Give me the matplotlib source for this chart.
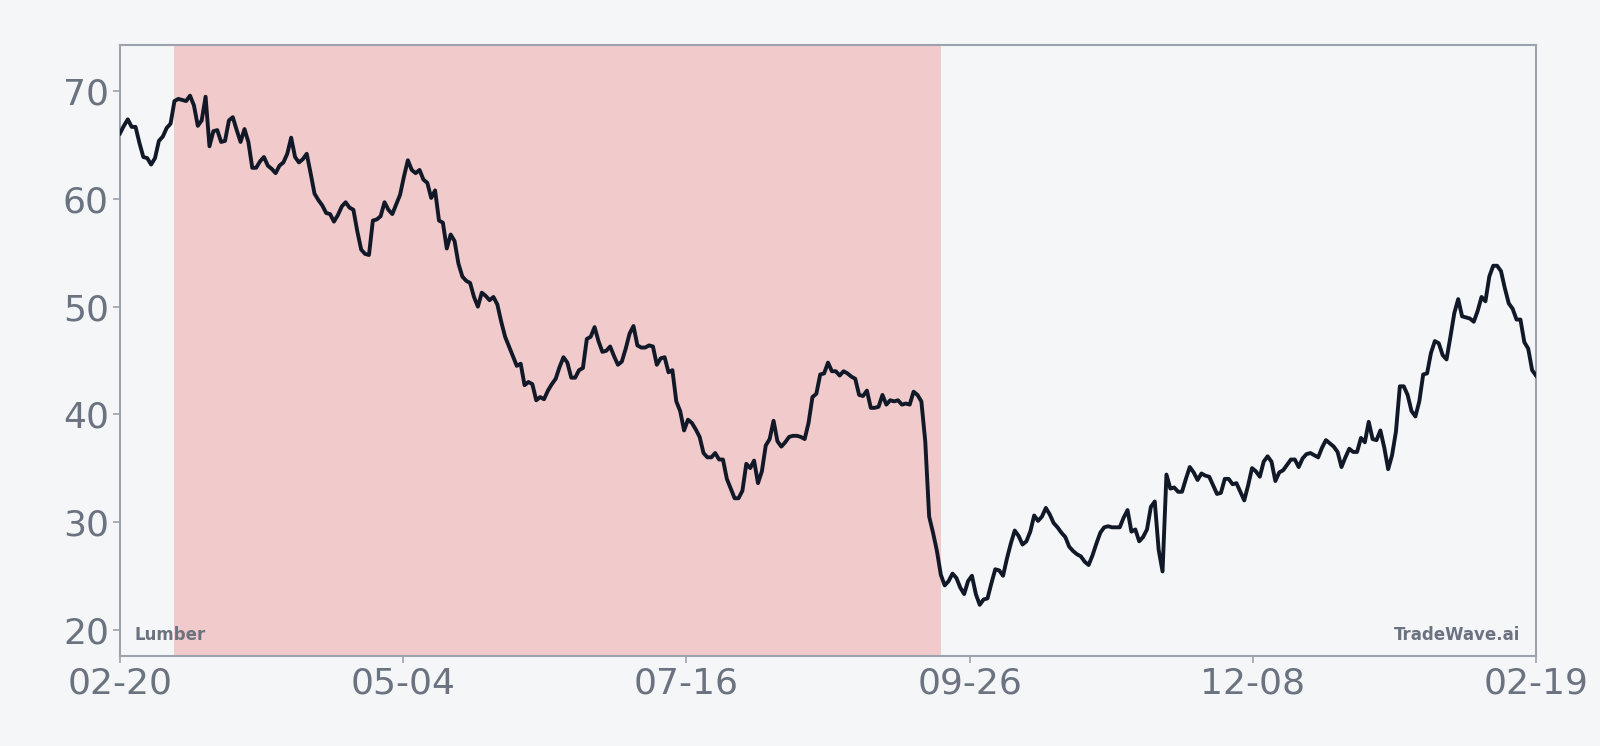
"""
Lumber price, one year of daily closes, with the drawdown period shaded.
"""

import numpy as np
import pandas as pd
import matplotlib
matplotlib.use("Agg")
import matplotlib.pyplot as plt

# daily values, 2023-02-20 .. 2024-02-19
start_date = "2023-02-20"
prices = [
    66.1, 66.8, 67.4, 66.7, 66.7, 65.2, 63.9, 63.8, 63.2, 63.8,
    65.4, 65.8, 66.6, 67.0, 69.1, 69.3, 69.2, 69.1, 69.6, 68.7,
    66.8, 67.3, 69.5, 64.9, 66.3, 66.4, 65.3, 65.4, 67.3, 67.6,
    66.4, 65.3, 66.5, 65.3, 62.9, 62.9, 63.5, 63.9, 63.1, 62.8,
    62.4, 63.1, 63.4, 64.2, 65.7, 63.9, 63.4, 63.7, 64.2, 62.4,
    60.5, 59.9, 59.4, 58.7, 58.6, 57.9, 58.5, 59.3, 59.7, 59.2,
    59.0, 57.0, 55.3, 54.9, 54.8, 58.0, 58.1, 58.4, 59.7, 59.0,
    58.6, 59.5, 60.4, 62.1, 63.6, 62.7, 62.4, 62.7, 61.8, 61.5,
    60.1, 60.8, 58.0, 57.8, 55.4, 56.7, 56.1, 54.0, 52.8, 52.4,
    52.2, 50.9, 50.0, 51.3, 51.0, 50.6, 50.9, 50.2, 48.6, 47.2,
    46.3, 45.4, 44.5, 44.7, 42.7, 43.0, 42.8, 41.3, 41.6, 41.4,
    42.2, 42.8, 43.3, 44.4, 45.3, 44.8, 43.4, 43.4, 44.1, 44.3,
    47.0, 47.2, 48.1, 46.8, 45.8, 45.9, 46.3, 45.4, 44.6, 44.9,
    46.1, 47.5, 48.2, 46.4, 46.2, 46.2, 46.4, 46.3, 44.6, 45.2,
    45.3, 43.9, 44.1, 41.2, 40.3, 38.5, 39.5, 39.2, 38.6, 37.9,
    36.4, 36.0, 36.0, 36.4, 35.8, 35.8, 34.0, 33.1, 32.2, 32.2,
    32.9, 35.4, 35.0, 35.7, 33.6, 34.7, 37.1, 37.7, 39.4, 37.5,
    37.0, 37.4, 37.9, 38.0, 38.0, 37.9, 37.7, 39.2, 41.6, 41.9,
    43.7, 43.8, 44.8, 44.0, 44.0, 43.6, 44.0, 43.8, 43.5, 43.3,
    41.8, 41.7, 42.2, 40.6, 40.6, 40.7, 41.8, 40.9, 41.3, 41.2,
    41.3, 40.9, 41.0, 40.9, 42.1, 41.8, 41.2, 37.5, 30.5, 29.0,
    27.3, 25.1, 24.1, 24.5, 25.2, 24.8, 23.9, 23.3, 24.5, 25.0,
    23.3, 22.3, 22.8, 22.9, 24.3, 25.6, 25.5, 25.0, 26.6, 28.0,
    29.2, 28.7, 27.9, 28.2, 29.1, 30.6, 30.1, 30.5, 31.3, 30.7,
    29.9, 29.5, 29.0, 28.6, 27.7, 27.3, 27.0, 26.8, 26.3, 26.0,
    26.9, 28.0, 29.0, 29.5, 29.6, 29.5, 29.5, 29.5, 30.4, 31.1,
    29.1, 29.3, 28.2, 28.6, 29.3, 31.4, 31.9, 27.4, 25.4, 34.4,
    33.1, 33.2, 32.8, 32.8, 34.0, 35.1, 34.6, 33.9, 34.5, 34.3,
    34.2, 33.4, 32.6, 32.7, 34.0, 34.0, 33.5, 33.6, 32.8, 32.0,
    33.4, 35.0, 34.7, 34.2, 35.6, 36.1, 35.6, 33.8, 34.6, 34.8,
    35.3, 35.8, 35.8, 35.1, 35.9, 36.3, 36.4, 36.2, 36.0, 36.9,
    37.6, 37.3, 37.0, 36.5, 35.1, 36.0, 36.8, 36.5, 36.5, 37.8,
    37.4, 39.3, 37.7, 37.6, 38.5, 36.9, 34.9, 36.2, 38.4, 42.6,
    42.6, 41.8, 40.3, 39.8, 41.2, 43.7, 43.8, 45.7, 46.8, 46.6,
    45.5, 45.1, 47.2, 49.4, 50.7, 49.1, 49.0, 48.9, 48.6, 49.6,
    50.9, 50.5, 52.8, 53.8, 53.8, 53.3, 51.7, 50.3, 49.8, 48.8,
    48.8, 46.7, 46.1, 44.1, 43.6,
]
shade_start, shade_end = 14, 211   # day index of the shaded stretch
label_left = "Lumber"
label_right = "TradeWave.ai"

BG = "#f5f6f8"
LINE = "#111827"
SHADE = "#f1cbcc"
GRID_GRAY = "#9ca3af"
TEXT_GRAY = "#6b7280"

dates = pd.date_range(start_date, periods=len(prices), freq="D")
x = np.arange(len(prices))
y = np.array(prices)

fig = plt.figure(figsize=(16, 7.46), dpi=100, facecolor=BG)
ax = fig.add_axes([0.075, 0.121, 0.885, 0.819])
ax.set_facecolor(BG)

ax.axvspan(shade_start, shade_end, color=SHADE, lw=0, zorder=0)
ax.plot(x, y, color=LINE, lw=2.8, zorder=3, solid_joinstyle="round")

pad = (y.max() - y.min()) * 0.1
ax.set_ylim(y.min() - pad, y.max() + pad)
ax.set_xlim(0, len(prices) - 1)

ax.set_yticks([20, 30, 40, 50, 60, 70])
tick_pos = np.linspace(0, len(prices) - 1, 6)
ax.set_xticks(tick_pos)
ax.set_xticklabels([dates[int(round(p))].strftime("%m-%d") for p in tick_pos])

ax.tick_params(axis="both", colors=GRID_GRAY, labelcolor=TEXT_GRAY,
               labelsize=26, length=5, width=1.2, pad=3)
for s in ax.spines.values():
    s.set_color(GRID_GRAY)
    s.set_linewidth(1.5)

ax.text(0.01, 0.034, label_left, transform=ax.transAxes, ha="left",
        va="center", fontsize=12, fontweight="bold", color=TEXT_GRAY)
ax.text(0.989, 0.034, label_right, transform=ax.transAxes, ha="right",
        va="center", fontsize=12, fontweight="bold", color=TEXT_GRAY)

plt.savefig("out.png", dpi=100, facecolor=BG)
